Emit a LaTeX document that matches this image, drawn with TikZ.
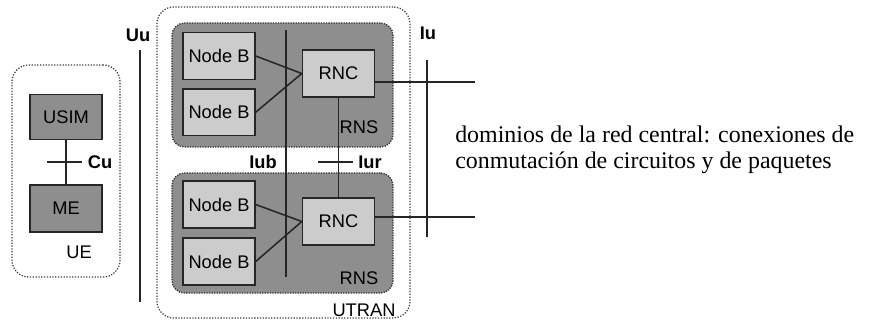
\documentclass[tikz,border=0pt]{standalone}
\usepackage{fontspec}
\setmainfont{Liberation Serif}
\setsansfont{Liberation Sans}
\usepackage{xcolor}
\usepackage{tikz}
\usetikzlibrary{positioning}
\definecolor{rnsgray}{RGB}{142, 142, 142}
\definecolor{nodegray}{RGB}{204, 204, 204}

\begin{document}
\begin{tikzpicture}[
    x=0.025cm, y=-0.025cm,
    area/.style={rectangle, draw=black!75, dash pattern=on 0.9pt off 1.1pt, line width=0.9pt, rounded corners=12pt, inner sep=0pt},
    rns/.style={rectangle, draw=black!80, fill=rnsgray, dash pattern=on 0.9pt off 0.9pt, line width=1pt, rounded corners=9pt, inner sep=0pt, minimum width=5.525cm},
    unit/.style={rectangle, draw=black!85, line width=1pt, minimum width=1.8cm, minimum height=1.17cm, inner sep=0pt, font=\sffamily\fontsize{13}{13}\selectfont},
    lbl/.style={font=\sffamily\fontsize{13}{13}\selectfont, inner sep=0pt},
    iface/.style={font=\sffamily\bfseries\fontsize{13}{13}\selectfont, inner sep=0pt},
    link/.style={line width=1.1pt, black!85}
]
\useasboundingbox (0,0) rectangle (869,322);

% UE
\node[area, minimum width=2.7cm, minimum height=5.3cm] (ue) at (66,171) {};
\node[unit, fill=rnsgray, minimum height=1.13cm] (usim) at (66,117) {USIM};
\node[unit, fill=rnsgray, below=1.1cm of usim] (me) {ME};
\node[lbl] (uelbl) at (79,252) {UE};

% UTRAN
\node[area, minimum width=6.325cm, minimum height=7.775cm] (utran) at (283.5,162.5) {};
\node[lbl] (utranlbl) at (364,310) {UTRAN};

% RNS
\node[rns, minimum height=3.1cm] (rnsA) at (282.5,85) {};
\node[rns, minimum height=3.0cm] (rnsB) at (282.5,233) {};
\node[lbl] (rnsAlbl) at (359,127) {RNS};
\node[lbl] (rnsBlbl) at (359,278) {RNS};

% Node B and RNC
\node[unit, fill=nodegray] (nodebA) at (219,56) {Node B};
\node[unit, fill=nodegray, below=0.2cm of nodebA] (nodebB) {Node B};
\node[unit, fill=nodegray] (rncA) at (338.5,73.5) {RNC};
\node[unit, fill=nodegray] (nodebC) at (219,204.5) {Node B};
\node[unit, fill=nodegray, below=0.22cm of nodebC] (nodebD) {Node B};
\node[unit, fill=nodegray] (rncB) at (338.5,221.5) {RNC};

% Interfaces
\coordinate (uutop) at (140,50);
\coordinate (uubot) at (140,302);
\coordinate (iubtop) at (286,30);
\coordinate (iubbot) at (286,277);
\coordinate (iutop) at (427,60);
\coordinate (iubot) at (427,237);
\coordinate (cuL) at (47,162);
\coordinate (cuR) at (82,162);
\coordinate (iurL) at (318,162);
\coordinate (iurR) at (353,162);
\coordinate (coreA) at (475,82);
\coordinate (coreB) at (475,217);

\node[iface] (uulbl) at (138,35) {Uu};
\node[iface] (culbl) at (100,162) {Cu};
\node[iface] (iublbl) at (263,162) {Iub};
\node[iface] (iurlbl) at (370,162) {Iur};
\node[iface] (iulbl) at (428,33) {Iu};

% Core network
\node[anchor=west, align=left, inner sep=0pt, font=\fontsize{17}{18.5}\selectfont] (core) at (455,150) {dominios de la red central: conexiones de\\conmutación de circuitos y de paquetes};

% Links
\draw[link] (usim) -- (me);
\draw[link] (cuL) -- (cuR);
\draw[link, line width=1.4pt] (uutop) -- (uubot);
\draw[link] (iubtop) -- (iubbot);
\draw[link, line width=1.4pt] (iutop) -- (iubot);
\draw[link] (nodebA.east) -- (rncA.west);
\draw[link] (nodebB.east) -- (rncA.west);
\draw[link] (nodebC.east) -- (rncB.west);
\draw[link] (nodebD.east) -- (rncB.west);
\draw[link] (rncA) -- (rncB);
\draw[link] (iurL) -- (iurR);
\draw[link] (rncA.east |- coreA) -- (coreA);
\draw[link] (rncB.east |- coreB) -- (coreB);

\end{tikzpicture}
\end{document}
